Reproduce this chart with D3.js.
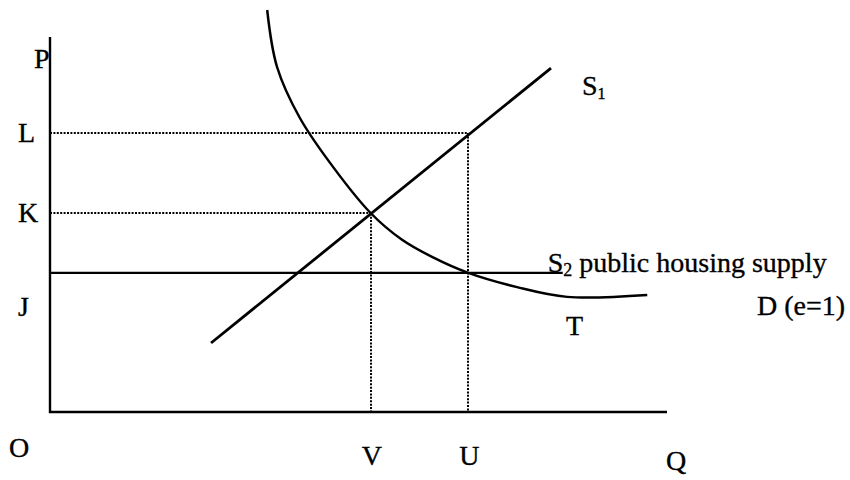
<!DOCTYPE html>
<html>
<head>
<meta charset="utf-8">
<script src="https://cdn.jsdelivr.net/npm/d3@7"></script>
<style>
    body { margin: 0; background: #fff; }
    svg { display: block; }
    text { font-family: "Liberation Serif", "Times New Roman", serif; fill: #000; stroke: #000; stroke-width: 0.35px; }
</style>
</head>
<body>
<script>
// price levels on the P axis
var priceLevels = [
    { label: 'L', value: 74.4 },
    { label: 'K', value: 53 },
    { label: 'J', value: 28 }
];
// quantities on the Q axis
var quantities = [
    { label: 'V', value: 52 },
    { label: 'U', value: 67.8 }
];
var s2Price = 37.1;
var s2End = 83.1;
var supplyS1 = [[26.1, 18.4], [81.2, 91.7]];
var demandD = [
    [35.2, 107.2], [36.8, 92], [40.5, 78.4], [45.9, 65.3], [52, 53],
    [57, 46], [62, 41.3], [67.8, 37.1], [75.7, 33.3], [83.8, 30.7], [96.8, 31.2]
];
// dotted guide lines: [q, p] corners
var guides = [
    { q: 67.8, p: 74.4 },
    { q: 52, p: 53 }
];

var width = 850,
    height = 480,
    fontsize = 28,
    svg = d3.select('body').append('svg')
        .attr('width', width)
        .attr('height', height),
    xScale = d3.scaleLinear().domain([0, 100]).range([50, 667]),
    yScale = d3.scaleLinear().domain([0, 100]).range([412, 37]),
    line = d3.line()
        .x(function(d) { return xScale(d[0]); })
        .y(function(d) { return yScale(d[1]); });

// dotted guides
var g = svg.append('g')
    .attr('stroke', '#000')
    .attr('stroke-width', 2)
    .attr('stroke-dasharray', '2,1.4')
    .attr('fill', 'none');

guides.forEach(function(d) {
    g.append('line')
        .attr('x1', xScale(0)).attr('x2', xScale(d.q))
        .attr('y1', Math.round(yScale(d.p))).attr('y2', Math.round(yScale(d.p)));
    g.append('line')
        .attr('x1', Math.round(xScale(d.q))).attr('x2', Math.round(xScale(d.q)))
        .attr('y1', yScale(d.p)).attr('y2', yScale(0));
});

// axes
svg.append('path')
    .attr('d', line([[0, 100], [0, 0], [100, 0]]))
    .attr('fill', 'none')
    .attr('stroke', '#000')
    .attr('stroke-width', 2.4);

// S2 public housing supply
svg.append('path')
    .attr('d', line([[0, s2Price], [s2End, s2Price]]))
    .attr('fill', 'none')
    .attr('stroke', '#000')
    .attr('stroke-width', 2.4);

// S1
svg.append('path')
    .attr('d', line(supplyS1))
    .attr('fill', 'none')
    .attr('stroke', '#000')
    .attr('stroke-width', 2.8);

// D
svg.append('path')
    .attr('d', line.curve(d3.curveCatmullRom)(demandD))
    .attr('fill', 'none')
    .attr('stroke', '#000')
    .attr('stroke-width', 2.5);

var labels = svg.append('g')
    .style('font-size', fontsize + 'px');

labels.append('text').attr('x', 34).attr('y', 68).text('P');
labels.append('text').attr('x', 9).attr('y', 457).text('O');
labels.append('text').attr('x', 666).attr('y', 470).text('Q');

labels.selectAll('.plevel')
    .data(priceLevels)
    .enter()
    .append('text')
    .attr('class', 'plevel')
    .attr('x', 18)
    .attr('y', function(d) { return yScale(d.value) + 9; })
    .text(function(d) { return d.label; });

labels.selectAll('.qlevel')
    .data(quantities)
    .enter()
    .append('text')
    .attr('class', 'qlevel')
    .attr('x', function(d) { return xScale(d.value) + 1; })
    .attr('y', 465)
    .style('text-anchor', 'middle')
    .text(function(d) { return d.label; });

var s1 = labels.append('text')
    .attr('x', xScale(supplyS1[1][0]) + 31)
    .attr('y', yScale(supplyS1[1][1]) + 27);
s1.append('tspan').text('S');
s1.append('tspan').attr('dy', 4).style('font-size', '16px').text('1');

var s2 = labels.append('text')
    .attr('x', xScale(s2End) - 15)
    .attr('y', yScale(s2Price) - 1);
s2.append('tspan').text('S');
s2.append('tspan').attr('dy', 4).style('font-size', '18px').text('2');
s2.append('tspan').attr('dy', -4).text(' public housing supply');

labels.append('text')
    .attr('x', 757)
    .attr('y', 315)
    .text('D (e=1)');

labels.append('text')
    .attr('x', 566)
    .attr('y', 335)
    .text('T');
</script>
</body>
</html>
